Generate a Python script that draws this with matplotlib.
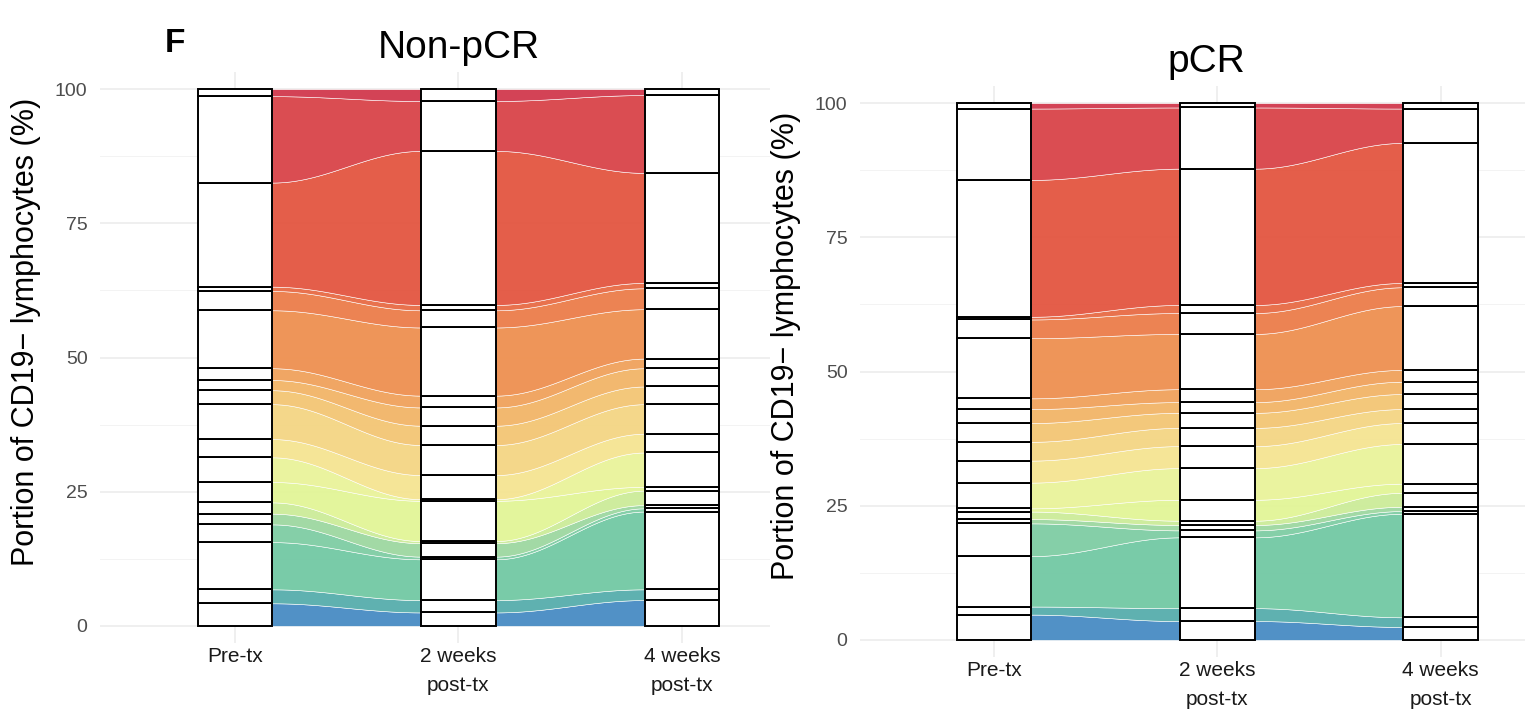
import matplotlib.pyplot as plt
import numpy as np

plt.rcParams['font.family'] = ['Liberation Sans', 'DejaVu Sans']

# clone proportions (%) per time point, stacked bottom -> top
timepoints = ["Pre-tx", "2 weeks\npost-tx", "4 weeks\npost-tx"]

nonpcr_pre = [4.2, 2.6, 8.8, 3.3, 2.0, 2.1, 3.8, 4.6, 3.4, 6.5, 2.6, 1.9, 2.2, 10.8, 3.6, 0.8, 19.4, 16.1, 1.3]
nonpcr_wk2 = [2.5, 2.3, 7.6, 0.5, 2.5, 0.4, 7.5, 0.3, 4.5, 5.6, 3.6, 3.4, 2.2, 12.7, 3.2, 1.0, 28.7, 9.3, 2.2]
nonpcr_wk4 = [4.8, 2.0, 14.5, 0.6, 0.6, 2.7, 0.7, 6.4, 3.5, 5.5, 3.3, 3.4, 1.8, 9.2, 3.9, 1.0, 20.5, 14.5, 1.1]

pcr_pre = [4.7, 1.5, 9.4, 6.1, 0.8, 1.4, 0.6, 4.8, 4.1, 3.5, 3.5, 2.6, 2.0, 11.2, 3.5, 0.5, 25.5, 13.3, 1.0]
pcr_wk2 = [3.5, 2.4, 13.2, 1.3, 1.0, 0.8, 3.9, 5.9, 4.1, 3.4, 2.8, 2.0, 2.4, 10.3, 3.9, 1.5, 25.4, 11.4, 0.8]
pcr_wk4 = [2.4, 1.8, 19.3, 0.5, 0.8, 2.6, 1.7, 7.4, 3.9, 2.6, 2.8, 2.3, 2.2, 11.9, 3.5, 0.8, 26.1, 6.4, 1.0]

clone_colors = ["#4A8DC4", "#58AEAD", "#74C9A5", "#80CDA5", "#9ED8A2", "#CCEC9A",
                "#E2F598", "#EAF39B", "#F5E493", "#F4D685", "#F3C676", "#F2B569",
                "#F0A35E", "#EE9152", "#EC7E4C", "#E86C47", "#E35742", "#D9464B",
                "#D23B4F"]

STRATUM_W = 1 / 3


def stack(sizes):
    tops = np.cumsum(sizes)
    return tops - np.asarray(sizes), tops


def draw_panel(ax, columns, title, xlim, title_x):
    ax.set_xlim(*xlim)
    ax.set_ylim(-3.2, 103.2)

    # grid first so everything sits on top of it
    for y in [12.5, 37.5, 62.5, 87.5]:
        ax.axhline(y, color="#F3F3F3", lw=0.7, zorder=0)
    for y in [0, 25, 50, 75, 100]:
        ax.axhline(y, color="#EBEBEB", lw=1.1, zorder=0)
    for x in range(1, len(columns) + 1):
        ax.axvline(x, color="#EBEBEB", lw=1.1, zorder=0)

    stacks = [stack(c) for c in columns]

    # flows between neighbouring time points
    t = np.linspace(0, 1, 120)
    s = (1 - np.cos(np.pi * t)) / 2
    for j in range(len(columns) - 1):
        x0 = j + 1 + STRATUM_W / 2
        x1 = j + 2 - STRATUM_W / 2
        xs = x0 + (x1 - x0) * t
        b0, t0 = stacks[j]
        b1, t1 = stacks[j + 1]
        for i in range(len(b0)):
            lo = b0[i] + (b1[i] - b0[i]) * s
            hi = t0[i] + (t1[i] - t0[i]) * s
            ax.fill_between(xs, lo, hi, color=clone_colors[i], alpha=0.96,
                            lw=0.4, edgecolor=(1, 1, 1, 0.12), zorder=1)

    # white strata boxes
    for j, (bots, tops) in enumerate(stacks):
        for b, tp in zip(bots, tops):
            ax.add_patch(plt.Rectangle((j + 1 - STRATUM_W / 2, b), STRATUM_W, tp - b,
                                       facecolor="white", edgecolor="black",
                                       lw=1.4, zorder=2))

    ax.set_xticks(range(1, len(columns) + 1))
    ax.set_xticklabels(timepoints, fontsize=15, color="#1A1A1A", linespacing=1.65)
    ax.set_yticks([0, 25, 50, 75, 100])
    ax.set_yticklabels(["0", "25", "50", "75", "100"], fontsize=14, color="#4D4D4D")
    ax.tick_params(axis="both", length=0)
    ax.tick_params(axis="x", pad=3)
    ax.tick_params(axis="y", pad=9)
    for sp in ax.spines.values():
        sp.set_visible(False)

    ax.set_ylabel("Portion of CD19\u2212 lymphocytes (%)", fontsize=22, color="black")
    ax.yaxis.set_label_coords(-0.088, 0.545)

    ax.text(title_x, 1.025, title, transform=ax.get_xaxis_transform(),
            ha="center", va="baseline", fontsize=28)


fig = plt.figure(figsize=(15.25, 7.16), dpi=100)

ax_left = fig.add_axes([100 / 1525, (716 - 643) / 716, 670 / 1525, 571 / 716])
draw_panel(ax_left, [nonpcr_pre, nonpcr_wk2, nonpcr_wk4], "Non-pCR", (0.396, 3.394), 2.0)

ax_right = fig.add_axes([860 / 1525, (716 - 657) / 716, 665 / 1525, 571 / 716])
draw_panel(ax_right, [pcr_pre, pcr_wk2, pcr_wk4], "pCR", (0.400, 3.378), 1.95)

fig.text(175 / 1525, 1 - 44 / 716, "F", fontsize=24, fontweight="bold",
         ha="center", va="center")

fig.savefig("out.png", dpi=100)
